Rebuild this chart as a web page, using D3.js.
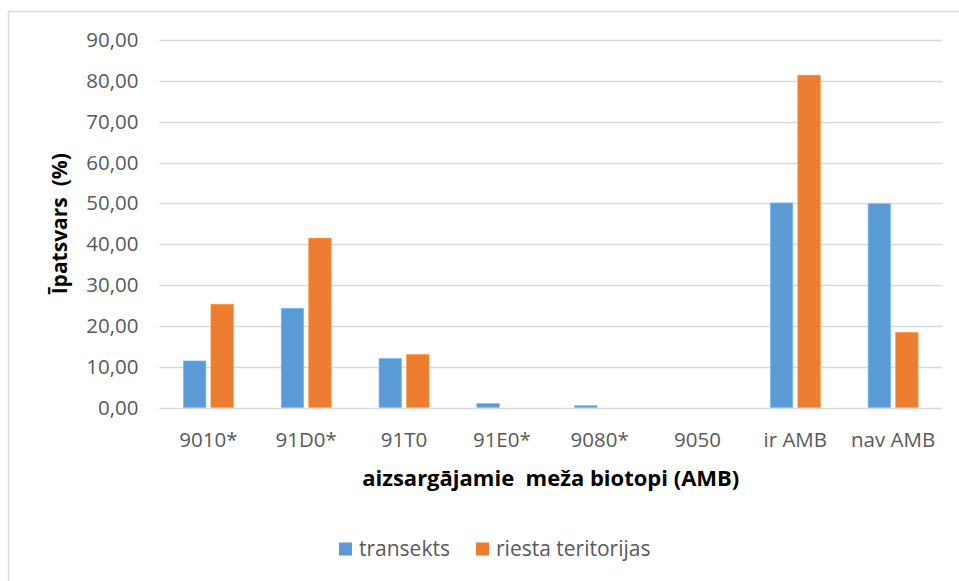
<!DOCTYPE html>
<html>
<head>
<meta charset="utf-8">
<script src="https://cdn.jsdelivr.net/npm/d3@7"></script>
<style>
  body { margin: 0; background: #fff; }
  text { font-family: "Open Sans", "DejaVu Sans", sans-serif; }
</style>
</head>
<body>
<svg id="chart" width="959" height="581"></svg>
<script>
// data
var categories = ["9010*", "91D0*", "91T0", "91E0*", "9080*", "9050", "ir AMB", "nav AMB"];
var transekts = [11.4, 24.3, 12.0, 1.0, 0.45, 0, 50.1, 49.9];
var riesta = [25.3, 41.5, 13.0, 0, 0, 0, 81.4, 18.4];
var series_names = ["transekts", "riesta teritorijas"];
var series_cols = ["#5B9BD5", "#ED7D31"];
var y_ticks = [0, 10, 20, 30, 40, 50, 60, 70, 80, 90];

var chart = d3.select("#chart");

// outer chart frame
chart.append("rect")
     .attr("x", 8.5).attr("y", 11.5)
     .attr("width", 1000).attr("height", 1000)
     .attr("fill", "none")
     .attr("stroke", "#D9D9D9")
     .attr("stroke-width", 1.5);

// plot area (window.top is taken, so prefix these)
var plot_left = 159.5, plot_right = 942, plot_top = 40, plot_bottom = 407.5;

var x = d3.scaleBand()
          .domain(categories)
          .range([plot_left, plot_right]);

var y = d3.scaleLinear()
          .domain([0, 90])
          .range([plot_bottom, plot_top]);

// gridlines
chart.append("g")
     .selectAll("line")
     .data(y_ticks)
     .enter().append("line")
     .attr("x1", plot_left).attr("x2", plot_right)
     .attr("y1", function (d) { return Math.round(y(d)) + 0.5; })
     .attr("y2", function (d) { return Math.round(y(d)) + 0.5; })
     .attr("stroke", "#D9D9D9")
     .attr("stroke-width", 1.3);

// y axis labels
var yaxis = chart.append("g")
                 .attr("transform", "translate(" + (plot_left - 21) + ",0)")
                 .call(d3.axisLeft(y)
                         .tickValues(y_ticks)
                         .tickSize(0)
                         .tickPadding(0)
                         .tickFormat(function (d) { return d.toFixed(2).replace(".", ","); }));
yaxis.select(".domain").remove();
yaxis.selectAll("text")
     .attr("fill", "#595959")
     .style("font-size", "20.5px");

// x axis labels
var xaxis = chart.append("g")
                 .attr("transform", "translate(0," + plot_bottom + ")")
                 .call(d3.axisBottom(x).tickSize(0).tickPadding(0));
xaxis.select(".domain").remove();
xaxis.selectAll("text")
     .attr("y", 39)
     .attr("dy", 0)
     .attr("fill", "#595959")
     .style("font-size", "20.5px");

// bars
var bar_w = 22.5, bar_gap = 5;
var all_series = [transekts, riesta];
all_series.forEach(function (vals, si) {
  chart.append("g")
       .selectAll("rect")
       .data(vals)
       .enter().append("rect")
       .attr("x", function (d, i) {
         var c = x(categories[i]) + x.bandwidth() / 2;
         return si === 0 ? c - bar_gap / 2 - bar_w : c + bar_gap / 2;
       })
       .attr("y", function (d) { return y(d); })
       .attr("width", bar_w)
       .attr("height", function (d) { return plot_bottom - y(d); })
       .attr("fill", series_cols[si])
       .attr("stroke", d3.color(series_cols[si]).brighter(0.6))
       .attr("stroke-width", 0.6);
});

// axis titles
chart.append("text")
     .attr("transform", "translate(67," + ((plot_top + plot_bottom) / 2) + ") rotate(-90)")
     .attr("text-anchor", "middle")
     .style("font-size", "21px")
     .style("font-weight", "bold")
     .style("white-space", "pre")
     .attr("fill", "#000")
     .text("Īpatsvars  (%)");

chart.append("text")
     .attr("x", (plot_left + plot_right) / 2)
     .attr("y", 486)
     .attr("text-anchor", "middle")
     .style("font-size", "22px")
     .style("font-weight", "bold")
     .style("white-space", "pre")
     .attr("fill", "#000")
     .text("aizsargājamie  meža biotopi (AMB)");

// legend
var legend_x = [339, 476];
series_names.forEach(function (name, i) {
  chart.append("rect")
       .attr("x", legend_x[i]).attr("y", 542.5)
       .attr("width", 13).attr("height", 13)
       .attr("fill", series_cols[i]);
  chart.append("text")
       .attr("x", legend_x[i] + 20)
       .attr("y", 556)
       .attr("fill", "#595959")
       .style("font-size", "21px")
       .text(name);
});
</script>
</body>
</html>
